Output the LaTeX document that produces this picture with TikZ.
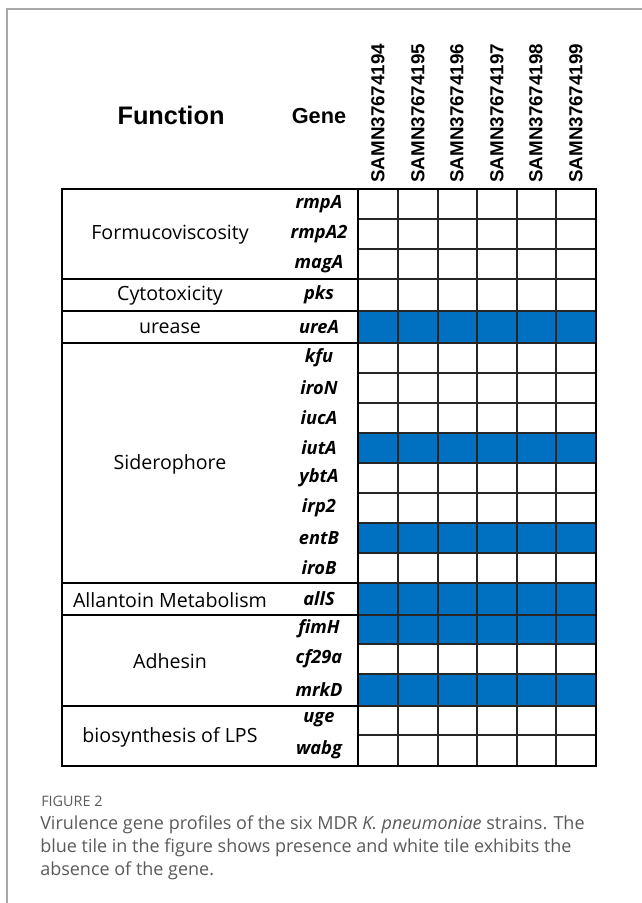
\documentclass[tikz,border=0pt]{standalone}
\usepackage{fontspec}
\setmainfont{Open Sans}
\newfontfamily\hdrfont{Liberation Sans}
\newfontfamily\smpfont{Liberation Sans}
\newfontfamily\capfont{Open Sans}
\definecolor{tileblue}{HTML}{0070C0}
\definecolor{capgrey}{HTML}{5A5A5A}
\definecolor{framegrey}{HTML}{A8A8A8}
\begin{document}
\begin{tikzpicture}[x=0.75pt,y=-0.75pt,
  hdr/.style={font=\hdrfont\bfseries\fontsize{19}{21}\selectfont, inner sep=0},
  smp/.style={font=\smpfont\bfseries\fontsize{14.1}{16}\selectfont, rotate=90, anchor=west, inner sep=0},
  func/.style={font=\fontsize{14.7}{16}\selectfont, inner sep=0},
  gene/.style={font=\bfseries\itshape\fontsize{13.7}{15}\selectfont, inner sep=0},
  grid/.style={line width=0.8pt, black!85},
  thickline/.style={line width=1.4pt, black},
  captxt/.style={font=\capfont\fontsize{13.5}{15}\selectfont, text=capgrey, anchor=base west, inner sep=0}]
\useasboundingbox (0,0) rectangle (642,903);
% frame corner
\draw[framegrey, line width=0.9pt] (7,903) -- (7,9) -- (642,9);
% headers
\node[hdr] (hfunc) at (171,115) {Function};
\node[hdr, font=\hdrfont\bfseries\fontsize{16.3}{18}\selectfont] (hgene) at (319,116) {Gene};
\node[smp] (s1) at (378,183) {SAMN37674194};
\node[smp] (s2) at (418,183) {SAMN37674195};
\node[smp] (s3) at (457,183) {SAMN37674196};
\node[smp] (s4) at (497,183) {SAMN37674197};
\node[smp] (s5) at (536,183) {SAMN37674198};
\node[smp] (s6) at (576,183) {SAMN37674199};
% blue tiles
\fill[tileblue] (358,311) rectangle (596,343);
\fill[tileblue] (358,433) rectangle (596,463);
\fill[tileblue] (358,523) rectangle (596,553);
\fill[tileblue] (358,583) rectangle (596,644);
\fill[tileblue] (358,674) rectangle (596,706);
% grid
\foreach \y in {219,249,279,311,343,373,403,433,463,493,523,553,583,615,644,674,706,735}
  \draw[grid] (358,\y) -- (596,\y);
\foreach \x in {398,438,477,517,556}
  \draw[grid] (\x,189) -- (\x,766);
% group separators
\foreach \y in {279,311,343,583,615,706}
  \draw[thickline] (62,\y) -- (358,\y);
\draw[thickline] (358,189) -- (358,766);
\draw[thickline] (62,189) rectangle (596,766);
% function labels
\node[func] (fformu) at (170,235) {Formucoviscosity};
\node[func] (fcyto) at (170,296) {Cytotoxicity};
\node[func] (fure) at (170,328) {urease};
\node[func] (fsid) at (170,464) {Siderophore};
\node[func] (fall) at (170,600) {Allantoin Metabolism};
\node[func] (fadh) at (170,661) {Adhesin};
\node[func] (flps) at (170,737) {biosynthesis of LPS};
% gene labels
\node[gene] (g1) at (319,204) {rmpA};
\node[gene] (g2) at (319,234) {rmpA2};
\node[gene] (g3) at (319,264) {magA};
\node[gene] (g4) at (319,295) {pks};
\node[gene] (g5) at (319,327) {ureA};
\node[gene] (g6) at (319,358) {kfu};
\node[gene] (g7) at (319,388) {iroN};
\node[gene] (g8) at (319,418) {iucA};
\node[gene] (g9) at (319,448) {iutA};
\node[gene] (g10) at (319,478) {ybtA};
\node[gene] (g11) at (319,508) {irp2};
\node[gene] (g12) at (319,538) {entB};
\node[gene] (g13) at (319,568) {iroB};
\node[gene] (g14) at (319,599) {allS};
\node[gene] (g15) at (319,629) {fimH};
\node[gene] (g16) at (319,659) {cf29a};
\node[gene] (g17) at (319,690) {mrkD};
\node[gene] (g18) at (319,720) {uge};
\node[gene] (g19) at (319,750) {wabg};
% caption
\node[captxt, font=\capfont\fontsize{10.8}{12}\selectfont] (cfig) at (41,806) {FIGURE 2};
\node[captxt] (c1) at (40,829) {Virulence gene profiles of the six MDR \textit{K. pneumoniae} strains. The};
\node[captxt] (c2) at (40,852) {blue tile in the figure shows presence and white tile exhibits the};
\node[captxt] (c3) at (40,875) {absence of the gene.};
\end{tikzpicture}
\end{document}
